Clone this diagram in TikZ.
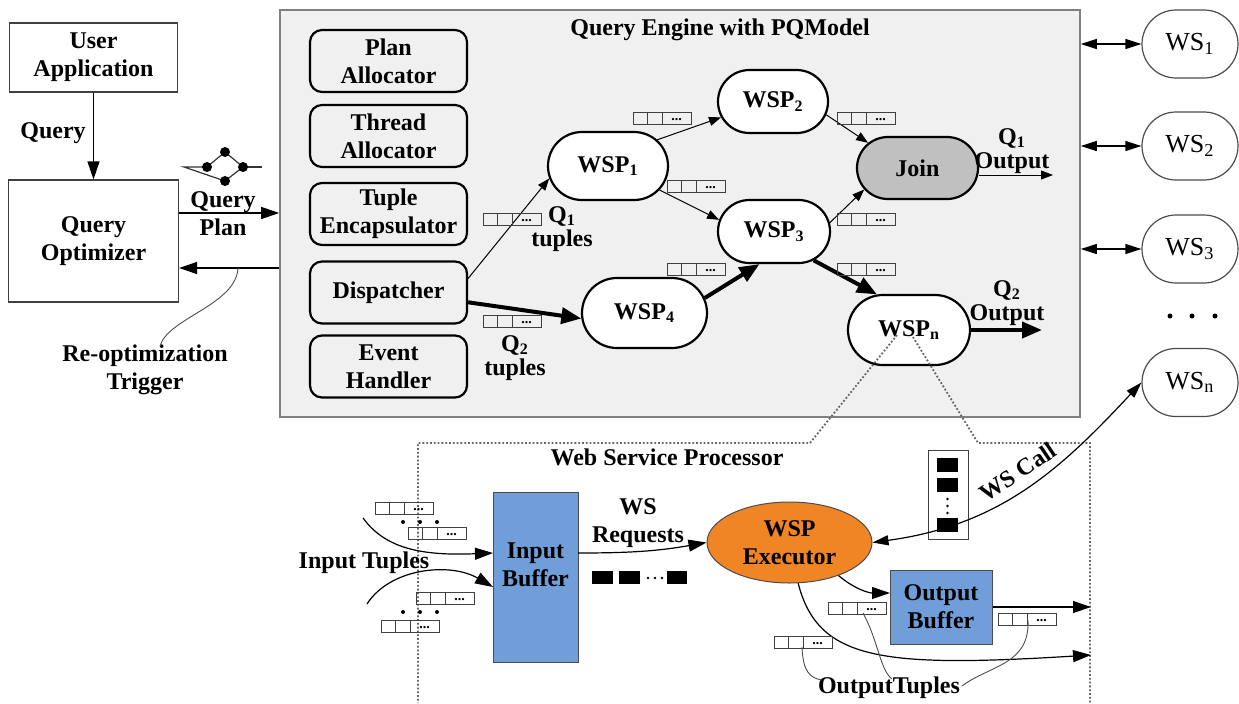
\documentclass[tikz,border=0pt]{standalone}
\usepackage{fontspec}
\setmainfont{Liberation Serif}
\usetikzlibrary{arrows.meta,shapes.misc,shapes.geometric,calc}
\definecolor{enggray}{HTML}{F0F0F0}
\definecolor{edgegray}{HTML}{808080}
\definecolor{joingray}{HTML}{C0C0C0}
\definecolor{bufblue}{RGB}{112,158,217}
\definecolor{execorange}{RGB}{240,133,38}
\begin{document}
\begin{tikzpicture}[x=0.5pt,y=-0.5pt,
  every node/.style={font=\fontsize{12}{14}\selectfont\bfseries, align=center, inner sep=1pt},
  plainbox/.style={draw=black!75, line width=0.6pt, fill=white, inner sep=0},
  engbox/.style={draw=black, line width=1.1pt, rounded corners=6pt, fill=enggray,
    minimum width=78.5pt, minimum height=31pt, inner sep=0},
  wspnode/.style={rounded rectangle, draw=black, line width=1.1pt, fill=white, inner sep=0},
  wsnode/.style={rounded rectangle, draw=black!70, line width=0.6pt, fill=white,
    minimum width=48pt, minimum height=34pt, inner sep=0, font=\fontsize{13}{14}\selectfont},
  flow/.style={line width=0.5pt, -{Triangle[length=6pt,width=4.5pt]}},
  heavy/.style={line width=2pt, -{Triangle[length=10pt,width=8pt]}},
  bigarr/.style={line width=0.6pt, -{Triangle[length=9pt,width=6pt]}},
  dblarr/.style={line width=0.6pt, {Triangle[length=8pt,width=5pt]}-{Triangle[length=8pt,width=5pt]}},
  leader/.style={line width=0.45pt, black!70},
  callout/.style={densely dotted, line width=0.9pt, black!60},
  qline/.style={line width=0.5pt, black!75},
  queue/.pic={
    \draw[qline] (0,0) rectangle (58,12) (14,0) -- (14,12) (29,0) -- (29,12);
    \node[font=\fontsize{7}{7}\selectfont\bfseries, inner sep=0] at (43.5,7.5) {...};
  }]
\useasboundingbox (0,0) rectangle (1239,703);

% ---------------- client side ----------------
\node[plainbox, minimum width=84pt, minimum height=34.5pt] (ua) at (93.5,57.5) {User\\Application};
\node[plainbox, minimum width=85pt, minimum height=61pt] (qo) at (93.5,241) {Query\\Optimizer};
\draw[bigarr] (ua) -- (qo);
\node (lq) at (53,133) {Query};

% ---------------- query engine ----------------
\node[draw=edgegray, fill=enggray, line width=0.8pt, minimum width=400pt,
      minimum height=203.5pt, inner sep=0] (engine) at (680,213.5) {};
\node (title) at (720,30) {Query Engine with PQModel};

\coordinate (qpy) at (0,213);
\draw[bigarr] (qo.east |- qpy) -- (engine.west |- qpy);
\node (lqp) at (223,214) {Query\\Plan};
\coordinate (rty) at (0,268);
\draw[bigarr] (engine.west |- rty) -- (qo.east |- rty);
\node (reo) at (145,370) {Re-optimization\\Trigger};
\coordinate (rt) at (238,268);
\coordinate (rtend) at (160,346);
\draw[leader] (rt) .. controls (236,305) and (168,318) .. (rtend);

% query plan glyph
\draw[line width=0.6pt, black!80] (184,167) -- (207,167) -- (225,152) -- (243,167) -- (225,181) -- cycle;
\draw[line width=0.6pt, black!80] (243,167) -- (262,167);
\foreach \p in {(207,167),(225,152),(243,167),(225,181)} \fill \p circle (5);

% engine modules
\node[engbox] (pa) at (388.5,61)    {Plan\\Allocator};
\node[engbox] (ta) at (388.5,136)   {Thread\\Allocator};
\node[engbox] (te) at (388.5,214)   {Tuple\\Encapsulator};
\node[engbox] (di) at (388.5,292.5) {Dispatcher};
\node[engbox] (eh) at (388.5,366.5) {Event\\Handler};

% operator graph
\node[wspnode, minimum width=60pt, minimum height=34pt]   (w1) at (608,166)   {WSP\textsubscript{1}};
\node[wspnode, minimum width=55pt, minimum height=31.5pt] (w2) at (773,101.5) {WSP\textsubscript{2}};
\node[wspnode, minimum width=56pt, minimum height=31.5pt] (w3) at (774,231.5) {WSP\textsubscript{3}};
\node[wspnode, minimum width=62.5pt, minimum height=35pt] (w4) at (644.5,313) {WSP\textsubscript{4}};
\node[wspnode, minimum width=61pt, minimum height=35pt]   (wn) at (909,330)   {WSP\textsubscript{n}};
\node[wspnode, fill=joingray, minimum width=60.5pt, minimum height=31pt] (join) at (917.5,168) {Join};

\draw[flow]  (di.10)  -- (w1.192);
\draw[heavy] (di.-7)  -- (w4.185);
\draw[flow]  (w1.28)  -- (w2.197);
\draw[flow]  (w1.-25) -- (w3.168);
\draw[flow]  (w2.-14) -- (join.153);
\draw[flow]  (w3.9)   -- (join.202);
\draw[heavy] (w4.14)  -- (w3.246);
\draw[heavy] (w3.-36) -- (wn.132);

\coordinate (q1end) at (1053,175);
\draw[flow] (q1end -| join.east) -- (q1end);
\coordinate (q2end) at (1042,330);
\draw[heavy] (wn.east) -- (q2end);

\node (o1) at (1012,151) {Q\textsubscript{1}\\[-2pt]Output};
\node (o2) at (1007,303) {Q\textsubscript{2}\\[-2pt]Output};
\node (l1) at (562,229) {Q\textsubscript{1}\\[-2pt]tuples};
\node (l2) at (515,358) {Q\textsubscript{2}\\[-2pt]tuples};

% tuple queues on the graph edges
\pic at (483,213) {queue};
\pic at (483,315) {queue};
\pic at (633,112) {queue};
\pic at (667,180) {queue};
\pic at (667,263) {queue};
\pic at (837,112) {queue};
\pic at (837,213) {queue};
\pic at (837,263) {queue};

% ---------------- web services ----------------
\node[wsnode] (ws1) at (1190,44)    {WS\textsubscript{1}};
\node[wsnode] (ws2) at (1190,146)   {WS\textsubscript{2}};
\node[wsnode] (ws3) at (1190,249)   {WS\textsubscript{3}};
\node[wsnode] (wsn) at (1190,382.5) {WS\textsubscript{n}};
\foreach \x in {1170,1192,1215} \fill (\x,316) circle (2.5);
\draw[dblarr] (engine.east |- ws1) -- (ws1.west);
\draw[dblarr] (engine.east |- ws2) -- (ws2.west);
\draw[dblarr] (engine.east |- ws3) -- (ws3.west);

% ---------------- web service processor ----------------
\coordinate (cl) at (810,443);
\coordinate (cr) at (978,443);
\coordinate (cla) at (897,335);
\coordinate (cra) at (913,337);
\draw[callout] (cla) -- (cl) -- (418,443) -- (418,703);
\draw[callout] (cra) -- (cr) -- (1090,443) -- (1090,703);
\node (wsplabel) at (667,457) {Web Service Processor};

\node[draw=black!70, line width=0.5pt, fill=bufblue, minimum width=42.5pt,
      minimum height=85pt, inner sep=0] (ib) at (535.5,577) {};
\node (ibtext) at (535.5,565) {Input\\Buffer};
\node[ellipse, draw=black!70, line width=0.5pt, fill=execorange, minimum width=82.5pt,
      minimum height=40.5pt, inner sep=0] (ex) at (789.5,542.5) {WSP\\Executor};
\node[draw=black!70, line width=0.5pt, fill=bufblue, minimum width=51pt,
      minimum height=37pt, inner sep=0] (ob) at (941,607) {Output\\Buffer};

% requests towards the executor
\coordinate (ibo) at (578,553);
\draw[bigarr] (ibo) to[out=0,in=190] (ex.west);
\node (wsreq) at (638,523) {WS\\Requests};
\fill (592,571) rectangle (613,584);
\fill (619,571) rectangle (640,584);
\fill (667,571) rectangle (687,584);
\foreach \x in {648,655,662} \fill (\x,578) circle (1.3);

% incoming tuples
\coordinate (it1) at (363,518);
\coordinate (it2) at (367,604);
\coordinate (ib1) at (493,553);
\coordinate (ib2) at (493,587);
\draw[bigarr] (it1) .. controls (385,548) and (420,556) .. (ib1);
\draw[bigarr] (it2) .. controls (390,568) and (450,562) .. (ib2);
\node (intup) at (364,563) {Input Tuples};
\pic at (375,502) {queue};
\pic at (408,527) {queue};
\pic at (416,592) {queue};
\pic at (381,620) {queue};
\foreach \x in {403,420,437} {\fill (\x,522) circle (2); \fill (\x,612) circle (2);}

% call queue and call to the remote service
\draw[qline, fill=white] (928,450) rectangle (968,539);
\fill (937,458) rectangle (958,472);
\fill (937,478) rectangle (958,492);
\fill (937,518) rectangle (958,532);
\foreach \y in {499,506,513} \fill (947.5,\y) circle (1.3);
\draw[dblarr] (ex.east) .. controls (1000,525) and (1060,470) .. (wsn.west);
\node[rotate=34] (wscall) at (1018,472) {WS Call};

% results
\coordinate (obin) at (890,593);
\draw[bigarr] (ex.-34) to[out=-40,in=180] (obin);
\coordinate (out1) at (1091,607);
\draw[bigarr] (ob.east) -- (out1);
\coordinate (out2) at (1091,655);
\draw[bigarr] (ex.-78) .. controls (818,660) and (880,668) .. (out2);
\pic at (828,602) {queue};
\pic at (998,613) {queue};
\pic at (774,636) {queue};
\node (outtup) at (889,688) {OutputTuples};
\coordinate (t1) at (802,647);
\coordinate (t2) at (863,613);
\coordinate (t3) at (1028,620);
\coordinate (u1) at (822,680);
\coordinate (u2) at (892,679);
\coordinate (u3) at (962,686);
\draw[leader] (t1) .. controls (803,672) and (810,678) .. (u1);
\draw[leader] (t2) .. controls (878,640) and (880,670) .. (u2);
\draw[leader] (t3) .. controls (1030,665) and (990,665) .. (u3);
\end{tikzpicture}
\end{document}
